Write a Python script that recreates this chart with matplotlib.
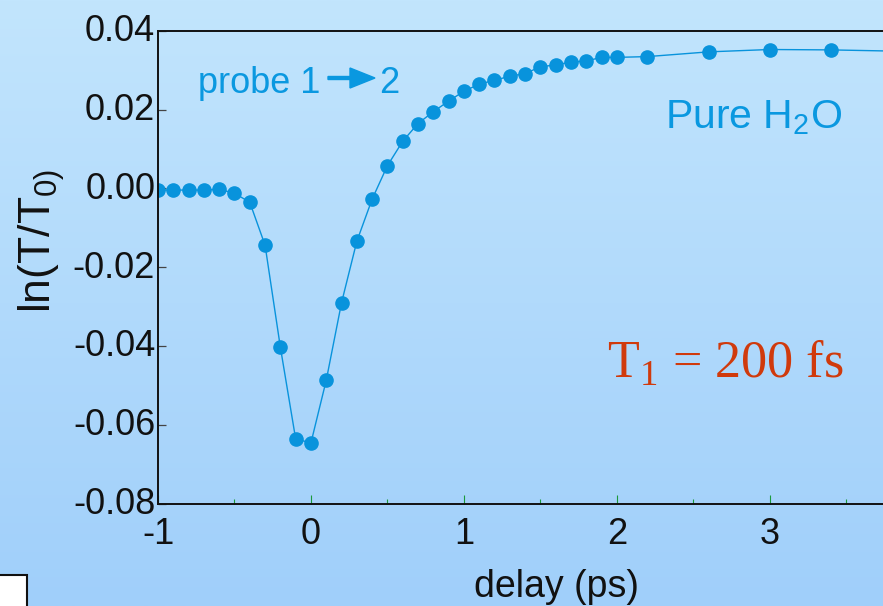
import numpy as np
import matplotlib
matplotlib.use("Agg")
import matplotlib.pyplot as plt
from matplotlib.patches import FancyArrow, Rectangle
from matplotlib.transforms import IdentityTransform, ScaledTranslation
from matplotlib.ticker import MultipleLocator, FixedLocator

plt.rcParams['font.family'] = ['Liberation Sans', 'DejaVu Sans']
plt.rcParams['axes.unicode_minus'] = False
plt.rcParams['mathtext.fontset'] = 'custom'
plt.rcParams['mathtext.rm'] = 'Liberation Sans'

# pump-probe transient, pure water
delay_ps = [-1.0, -0.9, -0.8, -0.7, -0.6, -0.5, -0.4, -0.3, -0.2, -0.1,
            0.0, 0.1, 0.2, 0.3, 0.4, 0.5, 0.6, 0.7, 0.8, 0.9,
            1.0, 1.1, 1.2, 1.3, 1.4, 1.5, 1.6, 1.7, 1.8, 1.9,
            2.0, 2.2, 2.6, 3.0, 3.4, 3.8]
ln_T_T0 = [-0.0004, -0.0004, -0.0004, -0.0004, -0.0002, -0.0012, -0.0035, -0.0144, -0.0403, -0.0636,
           -0.0646, -0.0487, -0.0290, -0.0134, -0.0027, 0.0058, 0.0120, 0.0165, 0.0195, 0.0222,
           0.0247, 0.0265, 0.0275, 0.0285, 0.0292, 0.0309, 0.0314, 0.0321, 0.0324, 0.0333,
           0.0333, 0.0335, 0.0347, 0.0353, 0.0352, 0.0349]

y_ticks = [0.04, 0.02, 0.00, -0.02, -0.04, -0.06, -0.08]
y_tick_labels = ['0.04', '0.02', '0.00', '-0.02', '-0.04', '-0.06', '-0.08']
x_ticks = [-1, 0, 1, 2, 3]
x_tick_labels = ['-1', '0', '1', '2', '3']

W, H = 883, 606
fig = plt.figure(figsize=(W / 100, H / 100), dpi=100)

# vertical gradient backdrop
bg = fig.add_axes([0, 0, 1, 1], zorder=-10)
grad = np.linspace(0, 1, 256)[:, None]
top = np.array([0xc2, 0xe5, 0xfd]) / 255
bot = np.array([0xa0, 0xcf, 0xfa]) / 255
img = top[None, None, :] * (1 - grad[..., None]) + bot[None, None, :] * grad[..., None]
bg.imshow(img, aspect='auto', extent=[0, 1, 0, 1])
bg.set_axis_off()

ax = fig.add_axes([158 / W, (H - 503.5) / H, (W - 158) / W, (503.5 - 31) / H])
ax.patch.set_alpha(0)

blue = '#0893dc'
ax.plot(delay_ps, ln_T_T0, '-', color=blue, lw=1.0, marker='o', ms=9.5,
        mec=blue, mfc=blue, clip_on=True)

ax.set_xlim(-1, 3.74)
ax.set_ylim(-0.08, 0.04)

for s in ['left', 'bottom', 'top']:
    ax.spines[s].set_color('#111111')
    ax.spines[s].set_linewidth(1.4)
ax.spines['right'].set_visible(False)

ax.yaxis.set_major_locator(FixedLocator(y_ticks))
ax.set_yticklabels(y_tick_labels)
ax.xaxis.set_major_locator(FixedLocator(x_ticks))
ax.set_xticklabels(x_tick_labels)
ax.xaxis.set_minor_locator(MultipleLocator(0.5))

ax.tick_params(axis='y', direction='in', length=6, width=0.9, color='#444444',
               labelsize=26, pad=2, labelcolor='#111111')
ax.tick_params(axis='x', which='major', direction='in', length=6.5, width=0.8,
               color='#1a9a3a', labelsize=26, pad=10, labelcolor='#111111')
ax.tick_params(axis='x', which='minor', direction='in', length=3.5, width=0.8,
               color='#1a9a3a')

# lift the y tick labels a touch above their ticks
lift = ScaledTranslation(0, 3 / 100, fig.dpi_scale_trans)
for lbl in ax.get_yticklabels():
    lbl.set_transform(lbl.get_transform() + lift)

# axis titles
fig.text(556 / W, 1 - 597 / H, 'delay (ps)', ha='center', va='baseline',
         fontsize=27, color='#111111')
fig.text(42 / W, 1 - 241 / H, r'ln(T/T$_{\mathregular{0)}}$', rotation=90,
         ha='center', va='center', fontsize=32, color='#111111')

# annotations
txt_blue = '#0a98e0'
fig.text(198 / W, 1 - 92.7 / H, 'probe 1', ha='left', va='baseline',
         fontsize=26, color=txt_blue)
fig.text(379 / W, 1 - 92.7 / H, '2', ha='left', va='baseline',
         fontsize=26, color=txt_blue)
fig.add_artist(FancyArrow(328, H - 78, 47, 0, width=3, head_width=20,
                          head_length=25, length_includes_head=True,
                          color=txt_blue, transform=IdentityTransform()))

fig.text(665 / W, 1 - 128 / H, r'Pure H$_{\mathregular{2}}$O', ha='left',
         va='baseline', fontsize=29.5, color=txt_blue)

fig.text(607 / W, 1 - 378 / H, r'T$_{\mathregular{1}}$ = 200 fs', ha='left',
         va='baseline', fontsize=37.5, color='#d03a0c', family='Liberation Serif')

# small white box at lower-left corner
fig.add_artist(Rectangle((-0.01, -0.01), 27 / W + 0.01, 31 / H + 0.01,
                         transform=fig.transFigure, facecolor='white',
                         edgecolor='#111111', lw=1.5))

fig.savefig('out.png', dpi=100)
